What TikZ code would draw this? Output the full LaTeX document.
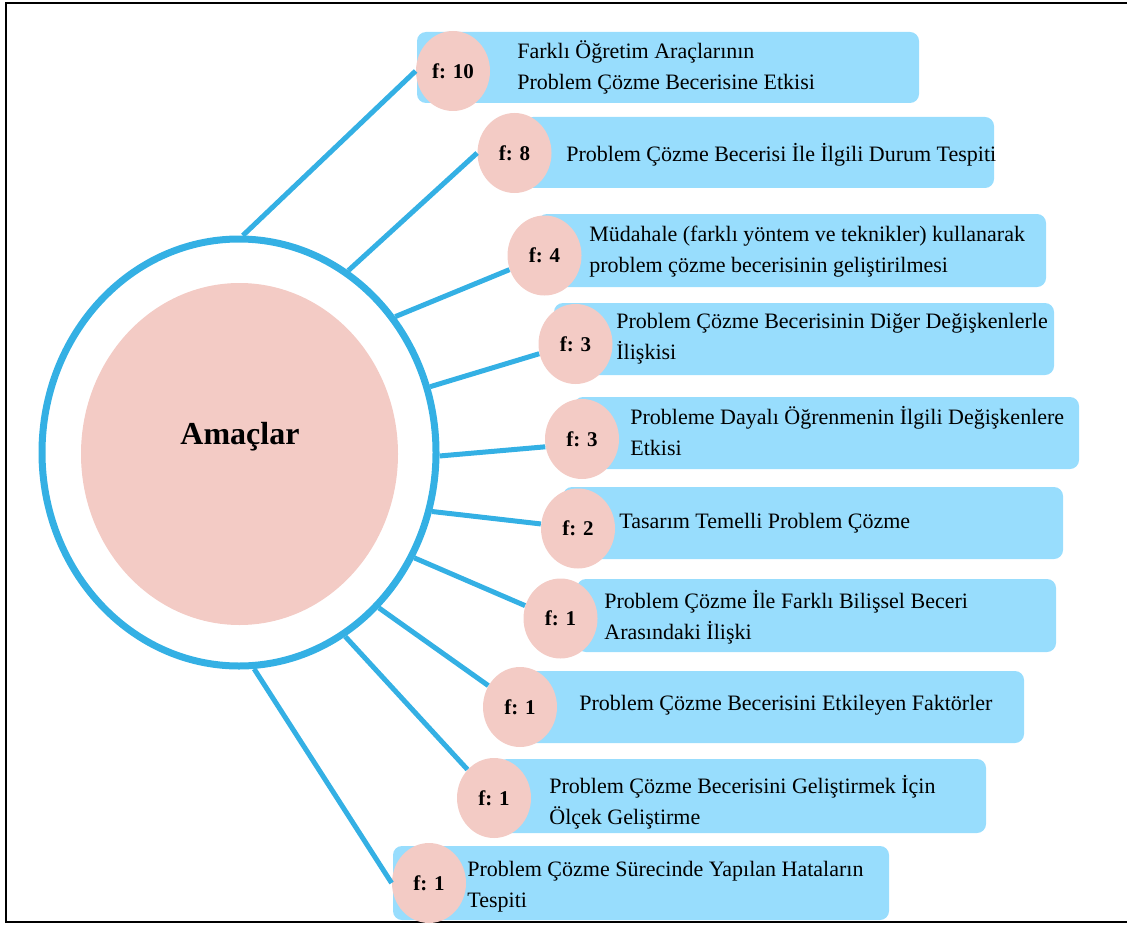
\documentclass[tikz,border=0pt]{standalone}
\usepackage{fontspec}
\setmainfont{Liberation Serif}
\usetikzlibrary{shapes.geometric}

\definecolor{ringblue}{RGB}{52,176,228}
\definecolor{boxblue}{RGB}{152,221,253}
\definecolor{pinkfill}{RGB}{243,203,197}

\tikzset{
	itembox/.style={fill=boxblue, rounded corners=4.5pt},
	fcirc/.style={ellipse, fill=pinkfill, minimum width=37pt, minimum height=40pt, inner sep=0pt, font=\fontsize{10.5}{12}\selectfont\bfseries},
	itemtext/.style={anchor=west, inner sep=0pt, align=left, font=\fontsize{11}{15.5}\selectfont},
	link/.style={draw=ringblue, line width=2.5pt}
}

\begin{document}
\begin{tikzpicture}[x=0.5pt, y=-0.5pt]
	\useasboundingbox (0,0) rectangle (1127,925);
	
	% frame, open on the right
	\draw[line width=1.1pt] (1127,3) -- (6,3) -- (6,922) -- (1127,922);
	
	% centre
	\node[ellipse, draw=ringblue, line width=3.5pt, minimum width=197pt, minimum height=213.5pt, inner sep=0pt] (ring) at (239,452.5) {};
	\node[ellipse, fill=pinkfill, minimum width=158.5pt, minimum height=171pt, inner sep=0pt] (core) at (239.5,454) {};
	\node[font=\fontsize{16}{18}\selectfont\bfseries] (amac) at (240,437) {Amaçlar};
	
	% boxes
	\fill[itembox] (417,32) rectangle (919,103);
	\fill[itembox] (524,117) rectangle (994,188);
	\fill[itembox] (538,214) rectangle (1046,287);
	\fill[itembox] (554,303) rectangle (1054,375);
	\fill[itembox] (574,397) rectangle (1079,469);
	\fill[itembox] (563,487) rectangle (1063,559);
	\fill[itembox] (577,579) rectangle (1056,652);
	\fill[itembox] (517,671) rectangle (1024,743);
	\fill[itembox] (498,759) rectangle (986,833);
	\fill[itembox] (393,846) rectangle (889,920);
	
	% frequencies
	\node[fcirc] (c1) at (453,71) {f: 10};
	\node[fcirc] (c2) at (514.5,153) {f: 8};
	\node[fcirc] (c3) at (544.5,255.5) {f: 4};
	\node[fcirc] (c4) at (575.5,344) {f: 3};
	\node[fcirc] (c5) at (582,439) {f: 3};
	\node[fcirc] (c6) at (578,528.5) {f: 2};
	\node[fcirc] (c7) at (560.5,618.5) {f: 1};
	\node[fcirc] (c8) at (520,707) {f: 1};
	\node[fcirc] (c9) at (494,798) {f: 1};
	\node[fcirc] (c10) at (429,883) {f: 1};
	
	% texts
	\node[itemtext] (t1) at (517,67.5) {Farklı Öğretim Araçlarının\\Problem Çözme Becerisine Etkisi};
	\node[itemtext] (t2) at (566,155) {Problem Çözme Becerisi İle İlgili Durum Tespiti};
	\node[itemtext] (t3) at (589,251.5) {Müdahale (farklı yöntem ve teknikler) kullanarak\\problem çözme becerisinin geliştirilmesi};
	\node[itemtext] (t4) at (616,339) {Problem Çözme Becerisinin Diğer Değişkenlerle\\İlişkisi};
	\node[itemtext] (t5) at (630,431.5) {Probleme Dayalı Öğrenmenin İlgili Değişkenlere\\Etkisi};
	\node[itemtext] (t6) at (619,523) {Tasarım Temelli Problem Çözme};
	\node[itemtext] (t7) at (604,617) {Problem Çözme İle Farklı Bilişsel Beceri\\Arasındaki İlişki};
	\node[itemtext] (t8) at (579,705) {Problem Çözme Becerisini Etkileyen Faktörler};
	\node[itemtext] (t9) at (549,802) {Problem Çözme Becerisini Geliştirmek İçin\\Ölçek Geliştirme};
	\node[itemtext] (t10) at (467,887) {Problem Çözme Sürecinde Yapılan Hataların\\Tespiti};
	
	% spokes
	\draw[link] (ring.89) -- (c1.180);
	\draw[link] (ring.59) -- (c2.180);
	\draw[link] (ring.41) -- (c3.202);
	\draw[link] (ring.19.6) -- (c4.195);
	\draw[link] (ring.-1.3) -- (c5.192);
	\draw[link] (ring.-17) -- (c6.173);
	\draw[link] (ring.-31) -- (c7.160);
	\draw[link] (ring.-48.7) -- (c8.146);
	\draw[link] (ring.-60) -- (c9.133);
	\draw[link] (ring.-86) -- (c10.180);
\end{tikzpicture}
\end{document}
